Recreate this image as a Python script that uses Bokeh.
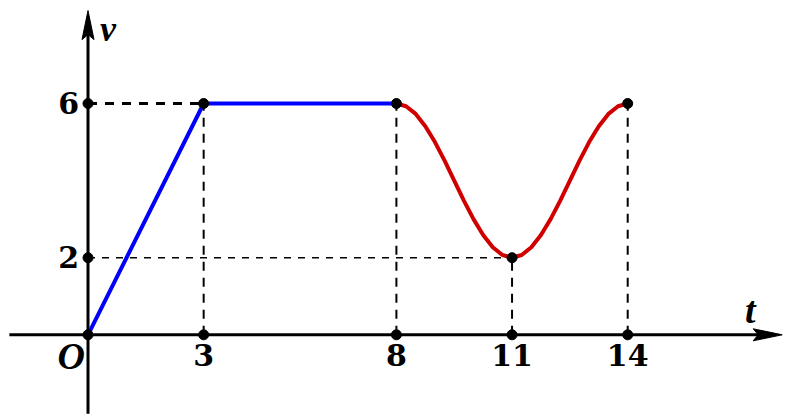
from bokeh.plotting import figure
from bokeh.models import Range1d
from bokeh.core.properties import value
from bokeh.embed import file_html
from bokeh.resources import INLINE

# ---- data ----
blue_t = [0, 3, 8]
blue_v = [0, 6, 6]

red_t = [8, 8.25, 8.5, 8.75, 9, 9.25, 9.5, 9.75, 10, 10.25, 10.5, 10.75, 11,
         11.25, 11.5, 11.75, 12, 12.25, 12.5, 12.75, 13, 13.25, 13.5, 13.75, 14]
red_v = [6.0, 5.93, 5.73, 5.41, 5.0, 4.52, 4.0, 3.48, 3.0, 2.59, 2.27, 2.07, 2.0,
         2.07, 2.27, 2.59, 3.0, 3.48, 4.0, 4.52, 5.0, 5.41, 5.73, 5.93, 6.0]

key_t = [3, 8, 11, 14]
key_v = [6, 6, 2, 6]
t_tick_labels = ["3", "8", "11", "14"]
v_ticks = [6, 2]
v_tick_labels = ["6", "2"]

# ---- geometry ----
PX = 38.55  # pixels per unit
X0, X1 = -2.270, 18.223
Y0, Y1 = -2.197, 8.672
X_AXIS_START, X_AXIS_END = -2.04, 18.008
Y_AXIS_START, Y_AXIS_END = -2.05, 8.41

p = figure(width=790, height=419, x_range=Range1d(X0, X1), y_range=Range1d(Y0, Y1),
           output_backend="svg", toolbar_location=None,
           x_axis_location=None, y_axis_location=None, min_border=0)
p.grid.visible = False
p.outline_line_color = None
p.background_fill_color = "white"
p.border_fill_color = "white"

# dashed guides
p.segment(x0=key_t, y0=[0] * len(key_t), x1=key_t, y1=key_v,
          line_color="black", line_width=2, line_dash="9 7")
p.segment(x0=[0], y0=[6], x1=[3], y1=[6], line_color="black", line_width=3, line_dash="9 8")
p.segment(x0=[0], y0=[2], x1=[11], y1=[2], line_color="black", line_width=1.6, line_dash="7 7")

# axes with arrow heads
L = 29 / PX
W = 6 / PX
N = 5 / PX
p.line([X_AXIS_START, X_AXIS_END - L + N], [0, 0], line_color="black", line_width=3)
p.line([0, 0], [Y_AXIS_START, Y_AXIS_END - L + N], line_color="black", line_width=3)
p.patch([X_AXIS_END, X_AXIS_END - L, X_AXIS_END - L + N, X_AXIS_END - L],
        [0, W, 0, -W], fill_color="black", line_color="black", line_width=1)
p.patch([0, W, 0, -W],
        [Y_AXIS_END, Y_AXIS_END - L, Y_AXIS_END - L + N, Y_AXIS_END - L],
        fill_color="black", line_color="black", line_width=1)

# curves
p.line(blue_t, blue_v, line_color="#0000ff", line_width=4, line_join="round")
p.line(red_t, red_v, line_color="#d00000", line_width=4, line_join="round")

# dots
dot_x = [0, 0, 0] + key_t + key_t
dot_y = [0] + v_ticks + key_v + [0] * len(key_t)
p.scatter(dot_x, dot_y, size=10, color="black")

# labels
num_font = value("DejaVu Serif")
p.text(x=key_t, y=[0] * len(key_t), text=t_tick_labels, text_font=num_font,
       text_font_style="bold", text_font_size="30px", text_align="center",
       text_baseline="middle", y_offset=20, text_color="black")
p.text(x=[0] * len(v_ticks), y=v_ticks, text=v_tick_labels, text_font=num_font,
       text_font_style="bold", text_font_size="30px", text_align="right",
       text_baseline="middle", x_offset=-9, y_offset=-1, text_color="black")
p.text(x=[0], y=[0], text=["O"], text_font=value("Liberation Serif"),
       text_font_style="bold italic", text_font_size="38px", text_align="right",
       text_baseline="middle", x_offset=-3, y_offset=21, text_color="black")
p.text(x=[0], y=[Y_AXIS_END], text=["v"], text_font=value("Liberation Serif"),
       text_font_style="bold italic", text_font_size="36px", text_align="center",
       text_baseline="middle", x_offset=20, y_offset=18, text_color="black")
p.text(x=[X_AXIS_END], y=[0], text=["t"], text_font=value("Liberation Serif"),
       text_font_style="bold italic", text_font_size="38px", text_align="center",
       text_baseline="middle", x_offset=-32, y_offset=-25, text_color="black")

open("out.html", "w").write(file_html(p, INLINE))
